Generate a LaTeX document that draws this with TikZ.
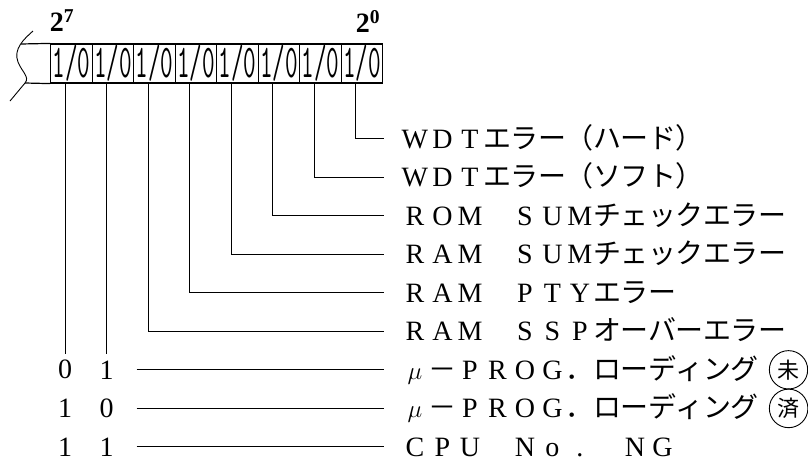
\documentclass[tikz,border=0pt]{standalone}
\usepackage{fontspec}
\setmainfont{Liberation Serif}
\newfontfamily\jp{Noto Sans CJK JP}
\usepackage{graphicx}
\usetikzlibrary{positioning}

% every character of a label sits in a cell of fixed pitch
\newlength\pitch
\setlength\pitch{27.5pt}
\makeatletter
\newcommand\wide[1]{\@tfor\wch:=#1\do{\makebox[\pitch]{\wch}}}
\makeatother
\newcommand\gap{\hspace*{\pitch}}

\tikzset{
  cell/.style={draw, line width=1.2pt, minimum width=41.5pt, minimum height=39pt,
               inner sep=0pt, font=\fontsize{47}{47}\selectfont\ttfamily},
  lbl/.style={anchor=west, inner xsep=17pt, inner ysep=0pt, text height=22pt,
              text depth=3pt, font=\fontsize{28}{30}\selectfont},
  bitval/.style={inner xsep=3pt, inner ysep=6pt, font=\fontsize{28}{30}\selectfont},
  circ/.style={circle, draw, line width=0.9pt, inner sep=3pt, minimum size=31pt,
               font=\jp\fontsize{22}{22}\selectfont},
  conn/.style={line width=0.9pt},
  pow/.style={font=\bfseries\fontsize{28}{30}\selectfont}
}

\begin{document}
\begin{tikzpicture}[x=1pt, y=-1pt]
  \useasboundingbox (0,0) rectangle (808,461);

  % Register, bit 7 at the left
  \foreach \i in {0,...,7}
    \node[cell] (c\i) at (71.45+41.5*\i, 63.5) {\scalebox{0.52}[1]{1/0}};

  \node[pow] (p7) at (62,21) {2\textsuperscript{7}};
  \node[pow] (p0) at (368,21) {2\textsuperscript{0}};

  % Broken-off end
  \coordinate (rt) at (21,44);
  \coordinate (rb) at (25,83);
  \draw[line width=1.2pt] (rt) -- (c0.north west) (rb) -- (c0.south west);
  \draw[conn] (33,31) .. controls (24,39) and (13,49) .. (18,62)
              .. controls (22,72) and (30,77) .. (rb) -- (10,101);

  % Taps under each bit
  \foreach \i in {0,...,7}
    \coordinate (t\i) at (65+41.5*\i, 83);

  % Labels
  \node[lbl] (l0) at (384,138.5) {\wide{WDT}{\jp\wide{エラー（ハード）}}};
  \node[lbl] (l1) at (384,177.1) {\wide{WDT}{\jp\wide{エラー（ソフト）}}};
  \node[lbl] (l2) at (384,215.6) {\wide{ROM}\gap\wide{SUM}{\jp\wide{チェックエラー}}};
  \node[lbl] (l3) at (384,254.2) {\wide{RAM}\gap\wide{SUM}{\jp\wide{チェックエラー}}};
  \node[lbl] (l4) at (384,292.7) {\wide{RAM}\gap\wide{PTY}{\jp\wide{エラー}}};
  \node[lbl] (l5) at (384,331.3) {\wide{RAM}\gap\wide{SSP}{\jp\wide{オーバーエラー}}};
  \node[lbl] (l6) at (384,369.8)
    {\makebox[\pitch]{$\mu$}{\jp\wide{－}}\wide{PROG}{\jp\wide{．ローディング}}};
  \node[lbl] (l7) at (384,408.4)
    {\makebox[\pitch]{$\mu$}{\jp\wide{－}}\wide{PROG}{\jp\wide{．ローディング}}};
  \node[lbl] (l8) at (384,446.9) {\wide{CPU}\gap\wide{No.}\gap\wide{NG}};

  \node[circ, right=-7pt of l6] (m6) {未};
  \node[circ, right=-7pt of l7] (m7) {済};

  \draw[conn] (t7) |- (l0.west);
  \draw[conn] (t6) |- (l1.west);
  \draw[conn] (t5) |- (l2.west);
  \draw[conn] (t4) |- (l3.west);
  \draw[conn] (t3) |- (l4.west);
  \draw[conn] (t2) |- (l5.west);

  % Bits 7 and 6 together
  \node[bitval] (v60) at (65,369.8) {0};
  \node[bitval] (v61) at (106.5,369.8) {1};
  \node[bitval] (v70) at (65,408.4) {1};
  \node[bitval] (v71) at (106.5,408.4) {0};
  \node[bitval] (v80) at (65,446.9) {1};
  \node[bitval] (v81) at (106.5,446.9) {1};

  \draw[conn] (t0) -- (v60.north);
  \draw[conn] (t1) -- (v61.north);

  \draw[conn] (v61.east) ++(20,0) -- (l6.west);
  \draw[conn] (v71.east) ++(20,0) -- (l7.west);
  \draw[conn] (v81.east) ++(20,0) -- (l8.west);
\end{tikzpicture}
\end{document}
